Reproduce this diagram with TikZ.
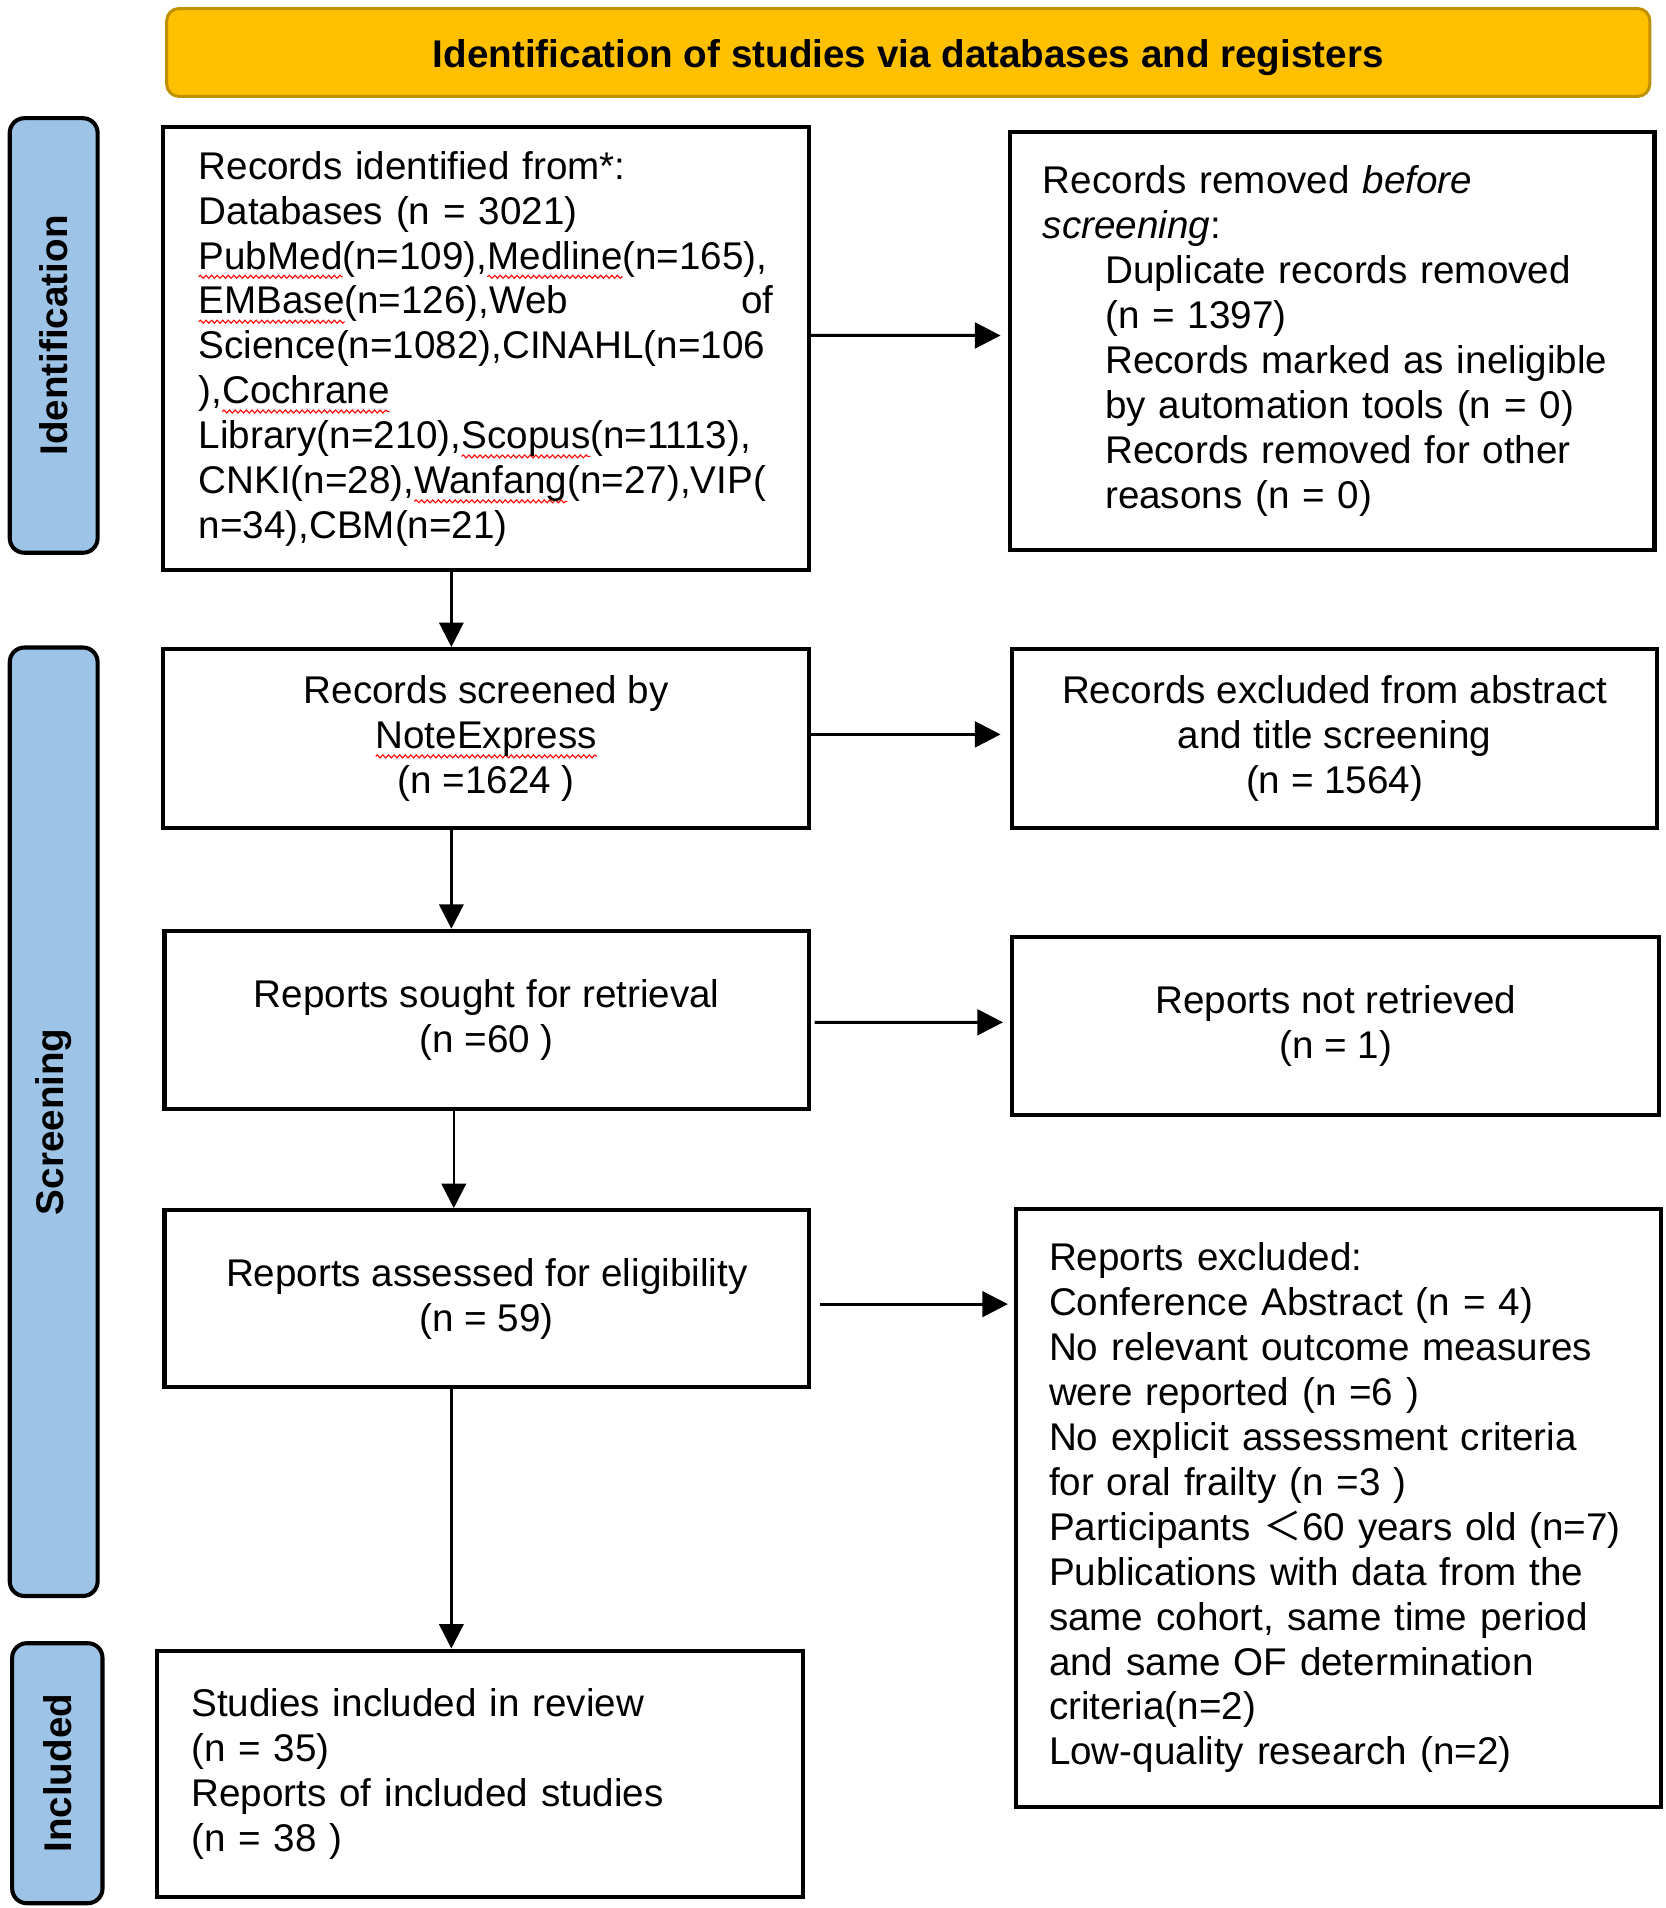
\documentclass[tikz,border=0pt]{standalone}
\usepackage{fontspec}
\setmainfont{Liberation Sans}
\newfontfamily\cjk{Noto Sans CJK SC}
\usetikzlibrary{arrows.meta,decorations.pathmorphing}
\definecolor{hdrfill}{HTML}{FFC000}
\definecolor{hdrdraw}{HTML}{BF9000}
\definecolor{sidefill}{HTML}{9DC3E6}
\newlength\sqlen
\newcommand\sq[1]{\leavevmode\settowidth\sqlen{#1}\rlap{\tikz[overlay,baseline=0pt,x=1cm,y=1cm]\draw[red,line width=0.25pt,decorate,decoration={snake,amplitude=0.35pt,segment length=1.3pt}] (0,-1.8pt) -- (\sqlen,-1.8pt);}#1}
\begin{document}
\begin{tikzpicture}[x=0.01cm,y=-0.01cm,
  txt/.style={font=\fontsize{9pt}{10.47pt}\selectfont},
  box/.style 2 args={draw,line width=0.95pt,inner sep=0pt,minimum width=#1,minimum height=#2,txt},
  side/.style={draw,line width=0.95pt,fill=sidefill,rounded corners=0.12cm,inner sep=0pt,rotate=90,font=\fontsize{9pt}{10.47pt}\selectfont\bfseries},
  hdr/.style={draw=hdrdraw,line width=0.7pt,fill=hdrfill,rounded corners=0.1cm,inner sep=0pt,font=\fontsize{9pt}{10.47pt}\selectfont\bfseries},
  harrow/.style={line width=0.7pt,-{Triangle[width=0.21cm,length=0.21cm]}},
  varrow/.style={line width=0.55pt,-{Triangle[width=0.2cm,length=0.2cm]}}]
\useasboundingbox (0,0) rectangle (1365,1564);

\node[hdr,minimum width=12.15cm,minimum height=0.72cm] (h) at (744.5,43) {\raisebox{-3.6pt}[0pt][0pt]{Identification of studies via databases and registers}};

\node[side,minimum width=3.56cm,minimum height=0.72cm] (s1) at (44,275) {Identification};
\node[side,minimum width=7.77cm,minimum height=0.72cm] (s2) at (44,919.5) {Screening};
\node[side,minimum width=2.13cm,minimum height=0.74cm] (s3) at (47,1453.5) {Included};

\node[box={5.29cm}{3.63cm},text width=4.71cm,align=left] (b1) at (398.5,286) {Records identified from*:\\
Databases (n = 3021)\\
\sq{PubMed}(n=109),\sq{Medline}(n=165),\\
\leavevmode\hbox to 4.71cm{\sq{EMBase}(n=126),Web\hfill of}\\
Science(n=1082),CINAHL(n=106\\
),\sq{Cochrane}\\
Library(n=210),\sq{Scopus}(n=1113),\\
CNKI(n=28),\sq{Wanfang}(n=27),VIP(\\
n=34),CBM(n=21)};

\node[box={5.28cm}{3.43cm},text width=4.74cm,align=left] (b2) at (1092,279.5) {Records removed \textit{before}\\
\textit{screening}:\\
\hspace*{0.51cm}Duplicate records removed\\
\hspace*{0.51cm}(n = 1397)\\
\hspace*{0.51cm}Records marked as ineligible\\
\hspace*{0.51cm}by automation tools (n = 0)\\
\hspace*{0.51cm}Records removed for other\\
\hspace*{0.51cm}reasons (n = 0)};

\node[box={5.29cm}{1.47cm},align=center] (b3) at (398.5,605.5) {Records screened by\\ \sq{NoteExpress}\\ (n =1624 )};
\node[box={5.28cm}{1.47cm},align=center] (b4) at (1094,605.5) {Records excluded from abstract\\ and title screening\\ (n = 1564)};
\node[box={5.28cm}{1.46cm},align=center] (b5) at (399,836) {Reports sought for retrieval\\ (n =60 )};
\node[box={5.30cm}{1.46cm},align=center] (b6) at (1095,841) {Reports not retrieved\\ (n = 1)};
\node[box={5.28cm}{1.45cm},align=center] (b7) at (399,1064.5) {Reports assessed for eligibility\\ (n = 59)};

\node[box={5.28cm}{4.90cm},text width=4.74cm,align=left] (b8) at (1097,1236) {Reports excluded:\\
Conference Abstract (n = 4)\\
No relevant outcome measures\\
were reported (n =6 )\\
No explicit assessment criteria\\
for oral frailty (n =3 )\\
Participants {\cjk ＜}60 years old (n=7)\\
Publications with data from the\\
same cohort, same time period\\
and same OF determination\\
criteria(n=2)\\
Low-quality research (n=2)};

\node[box={5.29cm}{2.02cm},text width=4.73cm,align=left] (b9) at (393.5,1454) {Studies included in review\\
(n = 35)\\
Reports of included studies\\
(n = 38 )};

% horizontal arrows
\draw[harrow,shorten >=0.06cm] ([yshift=0.11cm]b1.east) -- ([yshift=0.045cm]b2.west);
\draw[harrow,shorten >=0.08cm] ([yshift=0.035cm]b3.east) -- ([yshift=0.035cm]b4.west);
\draw[harrow,shorten <=0.03cm,shorten >=0.06cm] ([yshift=-0.02cm]b5.east) -- ([yshift=0.03cm]b6.west);
\draw[harrow,shorten <=0.07cm,shorten >=0.05cm] ([yshift=-0.045cm]b7.east) coordinate (a7) -- (a7 -| b8.west);

% vertical arrows
\draw[varrow] ([xshift=-0.285cm]b1.south) coordinate (v1) -- (v1 |- b3.north);
\draw[varrow] ([xshift=-0.285cm]b3.south) coordinate (v3) -- (v3 |- b5.north);
\draw[varrow] ([xshift=-0.27cm]b5.south) coordinate (v5) -- (v5 |- b7.north);
\draw[varrow] ([xshift=-0.29cm]b7.south) coordinate (v7) -- (v7 |- b9.north);
\end{tikzpicture}
\end{document}
